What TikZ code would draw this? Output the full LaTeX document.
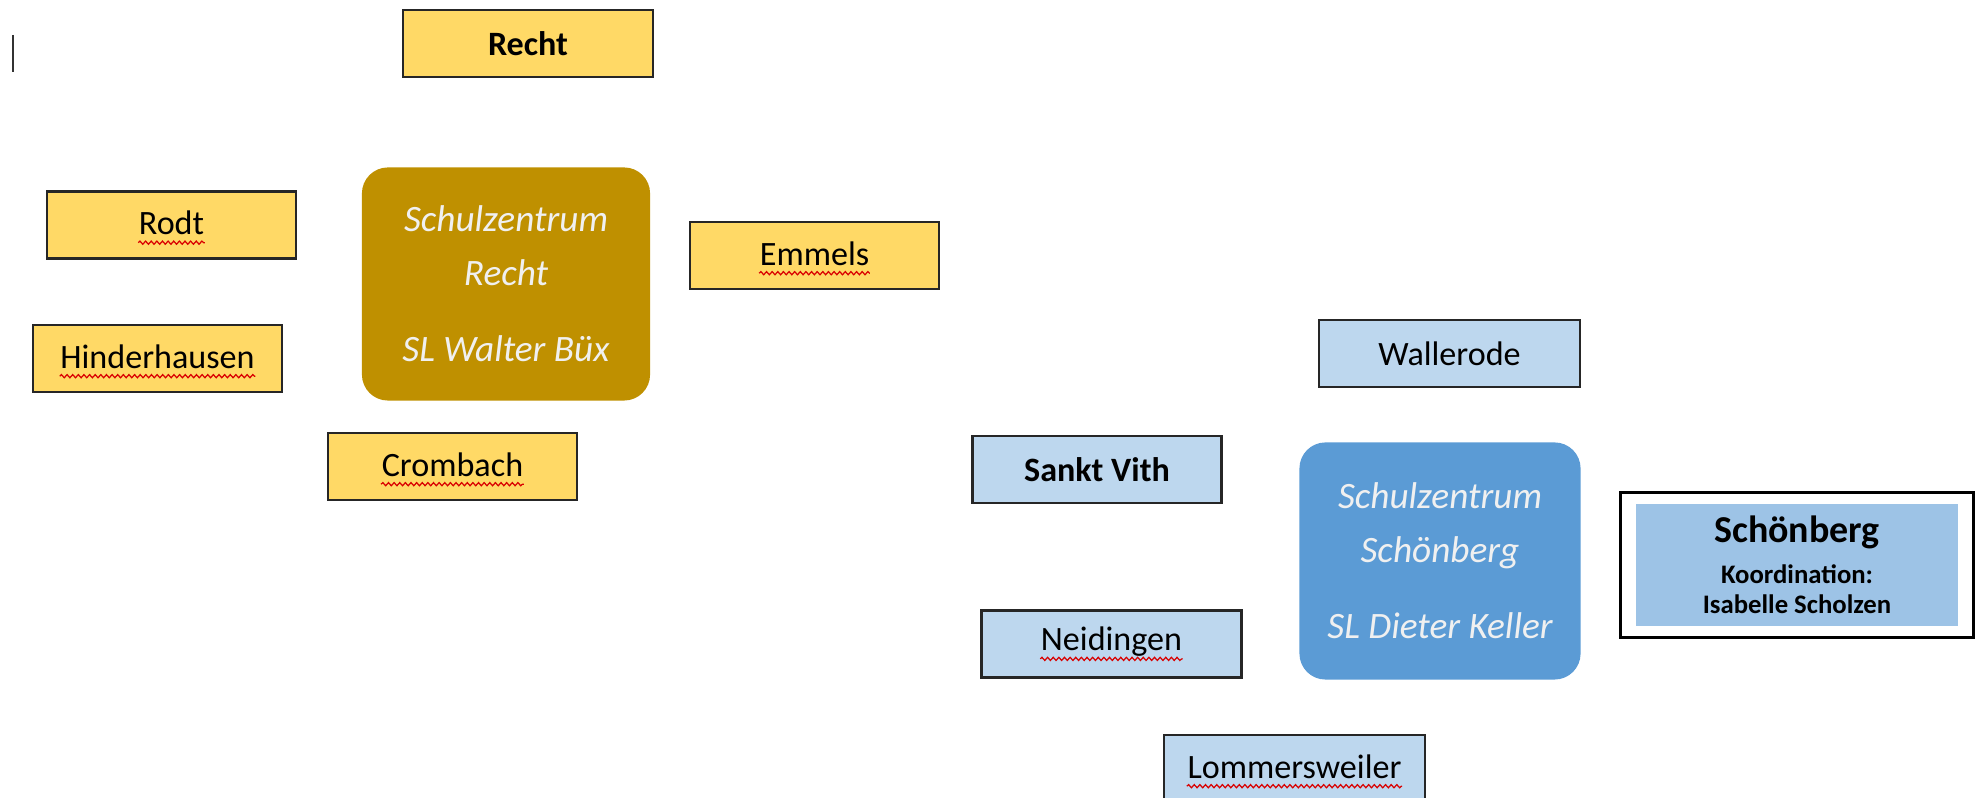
\documentclass[tikz,border=0pt]{standalone}
\usepackage{fontspec}
\setmainfont{Carlito}
\usetikzlibrary{decorations.pathmorphing}
\definecolor{ortgelb}{HTML}{FFD966}
\definecolor{zentrumgold}{HTML}{BF9000}
\definecolor{orthellblau}{HTML}{BDD7EE}
\definecolor{zentrumblau}{HTML}{5B9BD5}
\definecolor{koordblau}{HTML}{9DC3E6}
\tikzset{
  ort/.style = {draw=black!85, line width=0.7pt, minimum width=2.49cm, minimum height=0.67cm,
                inner sep=0pt, font=\fontsize{9.7}{11}\selectfont},
  ortrecht/.style = {ort, fill=ortgelb},
  ortvith/.style = {ort, fill=orthellblau},
  orttext/.style = {inner sep=0pt, yshift=0.6pt, font=\fontsize{9.7}{11}\selectfont},
  welle/.style = {red!85!black, line width=0.35pt, decorate,
                  decoration={snake, segment length=1.6pt, amplitude=0.45pt}},
  zentrum/.style = {rounded corners=0.26cm, inner sep=0pt, text=white!94!black, align=center,
                    font=\itshape\fontsize{10.6}{15.4}\selectfont}
}
\begin{document}
\begin{tikzpicture} [x = 0.01cm, y = -0.01cm]
\useasboundingbox (0, 0) rectangle (1975, 798);
\draw[black!80, line width=0.8pt] (13, 35) -- (13, 72);
% Schulzentrum Recht
\node[ortrecht, minimum width=2.5cm, font=\bfseries\fontsize{9.7}{11}\selectfont] (recht) at (528, 43.5){Recht};
\node[ortrecht] (rodt) at (171.5, 225){};
\node[orttext] (rodt-text) at (rodt){Rodt};
\node[ortrecht] (hinderhausen) at (157.5, 358.5){};
\node[orttext] (hinderhausen-text) at (hinderhausen){Hinderhausen};
\node[ortrecht] (emmels) at (814.5, 255.5){};
\node[orttext] (emmels-text) at (emmels){Emmels};
\node[ortrecht] (crombach) at (452.5, 466.5){};
\node[orttext] (crombach-text) at (crombach){Crombach};
\node[zentrum, fill=zentrumgold, minimum width=2.88cm, minimum height=2.33cm] (szrecht) at (506, 284){Schulzentrum\\Recht\\[0.22cm]SL Walter Büx};
% Schulzentrum Schönberg
\node[ortvith, minimum width=2.61cm] (wallerode) at (1449.5, 353.5){Wallerode};
\node[ortvith, font=\bfseries\fontsize{9.7}{11}\selectfont] (sanktvith) at (1097, 469.5){Sankt Vith};
\node[ortvith, minimum width=2.6cm] (neidingen) at (1111.5, 644){};
\node[orttext] (neidingen-text) at (neidingen){Neidingen};
\node[ortvith, minimum width=2.61cm] (lommersweiler) at (1294.5, 768.5){};
\node[orttext] (lommersweiler-text) at (lommersweiler){Lommersweiler};
\node[zentrum, fill=zentrumblau, minimum width=2.81cm, minimum height=2.37cm] (szschoenberg) at (1440, 561){Schulzentrum\\Schönberg\\[0.22cm]SL Dieter Keller};
\node[draw=black, line width=0.7pt, minimum width=3.53cm, minimum height=1.45cm, inner sep=0pt] (schoenbergrahmen) at (1797, 565){};
\node[fill=koordblau, minimum width=3.21cm, minimum height=1.22cm, inner sep=0pt, align=center,
      font=\bfseries\fontsize{7.6}{8.6}\selectfont] (schoenberg) at (schoenbergrahmen){{\fontsize{10.8}{12}\selectfont Schönberg}\\[0.1cm]Koordination:\\Isabelle Scholzen};
% Rechtschreibwellen
\foreach \wort in {rodt, hinderhausen, emmels, crombach, neidingen, lommersweiler}
  \draw[welle] ([yshift=-2.3pt]\wort-text.base west) -- ([yshift=-2.3pt]\wort-text.base east);
\end{tikzpicture}
\end{document}
